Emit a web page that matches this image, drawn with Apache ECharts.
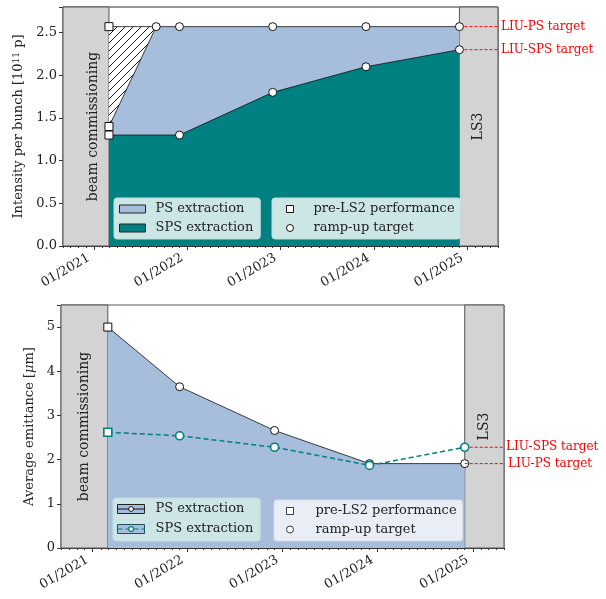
<!DOCTYPE html>
<html><head><meta charset="utf-8">
<script src="https://cdn.jsdelivr.net/npm/echarts@6/dist/echarts.min.js"></script>
<style>
html,body{margin:0;padding:0;background:#fff;}
#topChart{position:absolute;left:0;top:0;width:606px;height:290px;}
#botChart{position:absolute;left:0;top:290px;width:606px;height:309px;}
</style>
</head><body>
<div id="topChart"></div><div id="botChart"></div>
<script>
// ---------- data ----------
const xStart = '2020-09-01';
const xEnd = '2025-05-01';
const commissioningEnd = '2021-02-28';
const ls3Start = '2024-12-01';
const yearTickLabels = ['01/2021', '01/2022', '01/2023', '01/2024', '01/2025'];
const firstTickYear = 2021;

// Intensity per bunch [1e11 p]
const preLS2Date = '2021-02-28';
const psPreLS2Intensity = 1.4;
const psPreLS2Hatch = 2.57;
const spsPreLS2Intensity = 1.3;
const psRampDates = ['2021-09-01', '2021-12-01', '2022-12-01', '2023-12-01', '2024-12-01'];
const psRampIntensity = [2.57, 2.57, 2.57, 2.57, 2.57];
const spsRampDates = ['2021-12-01', '2022-12-01', '2023-12-01', '2024-12-01'];
const spsRampIntensity = [1.3, 1.8, 2.1, 2.3];
const liuPsIntensity = 2.57;
const liuSpsIntensity = 2.3;

// Average emittance [um]
const emitRampDates = ['2021-12-01', '2022-12-01', '2023-12-01', '2024-12-01'];
const psPreLS2Emit = 5.0;
const spsPreLS2Emit = 2.62;
const psRampEmit = [3.65, 2.66, 1.91, 1.91];
const spsRampEmit = [2.54, 2.28, 1.87, 2.28];
const liuPsEmit = 1.91;
const liuSpsEmit = 2.28;

// ---------- style ----------
const FONT = 'DejaVu Serif';
const TXT = '#222';
const FRAME = '#333';
const BLUE = '#a6bddb';
const TEAL = '#008080';
const GRAY = '#d3d3d3';
const RED = '#ff0000';
const DAY = 86400000;

function hatchCanvas() {
  const c = document.createElement('canvas');
  c.width = 8; c.height = 8;
  const g = c.getContext('2d');
  g.fillStyle = '#fff'; g.fillRect(0, 0, 8, 8);
  g.strokeStyle = '#000'; g.lineWidth = 0.9;
  g.beginPath();
  g.moveTo(0, 8); g.lineTo(8, 0);
  g.moveTo(-1, 1); g.lineTo(1, -1);
  g.moveTo(7, 9); g.lineTo(9, 7);
  g.stroke();
  return c;
}

function yearLabel(v) {
  const d = new Date(v);
  if (d.getMonth() !== 0 || d.getDate() !== 1) return '';
  const i = d.getFullYear() - firstTickYear;
  return (i >= 0 && i < yearTickLabels.length) ? yearTickLabels[i] : '';
}

function xAxes() {
  return [
    {
      type: 'time', min: xStart, max: xEnd, position: 'bottom',
      minInterval: 365 * DAY, maxInterval: 366 * DAY, splitNumber: 5,
      axisLine: { lineStyle: { color: FRAME, width: 1 } },
      axisTick: { length: 4, lineStyle: { color: FRAME } },
      splitLine: { show: false },
      axisLabel: { rotate: 30, margin: 8, formatter: yearLabel, fontFamily: FONT, fontSize: 13, color: TXT,
                   padding: [0, 6, 0, 0], showMinLabel: false, showMaxLabel: false, hideOverlap: false }
    },
    {
      type: 'time', min: xStart, max: xEnd, position: 'bottom',
      minInterval: 28 * DAY, maxInterval: 31 * DAY, splitNumber: 56,
      axisLine: { show: false },
      axisTick: { length: 2, lineStyle: { color: FRAME } },
      axisLabel: { show: false },
      splitLine: { show: false }
    }
  ];
}

function shadedAreas(offsetY) {
  return {
    silent: true,
    itemStyle: { color: GRAY, borderColor: '#555', borderWidth: 1 },
    label: { show: true, position: 'inside', rotate: 90, fontFamily: FONT, fontSize: 14, color: TXT },
    data: [
      [{ xAxis: xStart, name: 'beam commissioning', label: { offset: [0, offsetY] } }, { xAxis: commissioningEnd }],
      [{ xAxis: ls3Start, name: 'LS3' }, { xAxis: xEnd }]
    ]
  };
}

// red dashed target line from LS3 start to the right edge, labelled at its end
function targetSeries(label, val, dist) {
  return {
    name: label, type: 'line', xAxisIndex: 0, z: 4, silent: true,
    data: [[ls3Start, val], [xEnd, val]], symbol: 'none',
    lineStyle: { color: RED, type: [3, 2], width: 1 }, itemStyle: { color: RED },
    emphasis: { disabled: true },
    endLabel: { show: true, formatter: label, color: RED, fontFamily: FONT, fontSize: 12, distance: dist }
  };
}

// ---------- top chart ----------
const chartTop = echarts.init(document.getElementById('topChart'), null, { renderer: 'canvas' });
const psIntensityLine = [[preLS2Date, psPreLS2Intensity]].concat(psRampDates.map((d, i) => [d, psRampIntensity[i]]));
const spsIntensityLine = [[preLS2Date, spsPreLS2Intensity]].concat(spsRampDates.map((d, i) => [d, spsRampIntensity[i]]));
const hatchLine = [[preLS2Date, psPreLS2Hatch], [psRampDates[0], psRampIntensity[0]]];
const preLS2Top = [[preLS2Date, psPreLS2Hatch], [preLS2Date, psPreLS2Intensity], [preLS2Date, spsPreLS2Intensity]];
const rampTop = psRampDates.map((d, i) => [d, psRampIntensity[i]]).concat(spsRampDates.map((d, i) => [d, spsRampIntensity[i]]));

const markerLegendData = [
  { name: 'pre-LS2 performance', icon: 'rect', itemStyle: { color: '#fff', borderColor: '#111', borderWidth: 1 } },
  { name: 'ramp-up target', icon: 'circle', itemStyle: { color: '#fff', borderColor: '#111', borderWidth: 1 } }
];

chartTop.setOption({
  animation: false,
  textStyle: { fontFamily: FONT },
  grid: { left: 63, top: 7, width: 435, height: 239, outerBoundsMode: 'none', containLabel: false,
          show: true, borderColor: FRAME, borderWidth: 1, backgroundColor: 'transparent' },
  xAxis: xAxes(),
  yAxis: {
    type: 'value', min: 0, max: 2.8, interval: 0.5,
    name: 'Intensity per bunch [10{sup|11} p]', nameLocation: 'middle', nameGap: 29,
    nameTextStyle: { fontFamily: FONT, fontSize: 13, color: TXT, rich: { sup: { fontFamily: FONT, fontSize: 9, color: TXT, padding: [0, 0, 5, 0] } } },
    axisLine: { show: true, lineStyle: { color: FRAME } },
    axisTick: { show: true, length: 4, lineStyle: { color: FRAME } },
    splitLine: { show: false },
    axisLabel: { fontFamily: FONT, fontSize: 13, color: TXT, margin: 6,
      formatter: v => (Math.abs(v / 0.5 - Math.round(v / 0.5)) < 1e-6 ? v.toFixed(1) : '') }
  },
  legend: [
    {
      left: 114, top: 198, orient: 'vertical', itemWidth: 26, itemHeight: 8, itemGap: 6,
      padding: [4.5, 7, 4.5, 5], backgroundColor: '#cce6e6', borderColor: '#c4dcdc', borderWidth: 1, borderRadius: 3,
      symbolKeepAspect: false, selectedMode: false,
      textStyle: { fontFamily: FONT, fontSize: 13, color: TXT, padding: [0, 0, 0, 5] },
      data: [
        { name: 'PS extraction', icon: 'rect', itemStyle: { color: BLUE, borderColor: '#222', borderWidth: 1 } },
        { name: 'SPS extraction', icon: 'rect', itemStyle: { color: TEAL, borderColor: '#222', borderWidth: 1 } }
      ]
    },
    {
      left: 272, top: 198, orient: 'vertical', itemWidth: 7, itemHeight: 7, itemGap: 6,
      padding: [4.5, 6, 4.5, 14], backgroundColor: '#cce6e6', borderColor: '#c4dcdc', borderWidth: 1, borderRadius: 3,
      selectedMode: false,
      textStyle: { fontFamily: FONT, fontSize: 13, color: TXT, padding: [0, 0, 0, 15] },
      data: markerLegendData
    }
  ],
  series: [
    {
      name: 'hatch', type: 'line', xAxisIndex: 0, z: 1, data: hatchLine, symbol: 'none',
      lineStyle: { color: '#111', width: 0.8 },
      areaStyle: { color: { image: hatchCanvas(), repeat: 'repeat' }, opacity: 1 },
      markArea: shadedAreas(7)
    },
    {
      name: 'PS extraction', type: 'line', xAxisIndex: 0, z: 2, data: psIntensityLine, symbol: 'none',
      lineStyle: { color: '#111', width: 0.8 }, itemStyle: { color: BLUE },
      areaStyle: { color: BLUE, opacity: 1 }
    },
    {
      name: 'SPS extraction', type: 'line', xAxisIndex: 0, z: 3, data: spsIntensityLine, symbol: 'none',
      lineStyle: { color: '#111', width: 0.8 }, itemStyle: { color: TEAL },
      areaStyle: { color: TEAL, opacity: 1 }
    },
    targetSeries('LIU-PS target', liuPsIntensity, 3),
    targetSeries('LIU-SPS target', liuSpsIntensity, 3),
    {
      name: 'pre-LS2 performance', type: 'scatter', xAxisIndex: 0, z: 6, data: preLS2Top,
      symbol: 'rect', symbolSize: 8, itemStyle: { color: '#fff', borderColor: '#111', borderWidth: 1, opacity: 1 }
    },
    {
      name: 'ramp-up target', type: 'scatter', xAxisIndex: 0, z: 6, data: rampTop,
      symbol: 'circle', symbolSize: 8, itemStyle: { color: '#fff', borderColor: '#111', borderWidth: 1, opacity: 1 }
    }
  ]
});

// ---------- bottom chart ----------
const chartBot = echarts.init(document.getElementById('botChart'), null, { renderer: 'canvas' });
const psEmitLine = [{ value: [preLS2Date, psPreLS2Emit], symbol: 'rect', symbolSize: 8 }]
  .concat(emitRampDates.map((d, i) => [d, psRampEmit[i]]));
const spsEmitLine = [{ value: [preLS2Date, spsPreLS2Emit], symbol: 'rect', symbolSize: 8 }]
  .concat(emitRampDates.map((d, i) => [d, spsRampEmit[i]]));

const legendTextBL = { fontFamily: FONT, fontSize: 13, color: TXT, padding: [0, 0, 0, 6] };
chartBot.setOption({
  animation: false,
  textStyle: { fontFamily: FONT },
  grid: { left: 61, top: 15, width: 443, height: 243, outerBoundsMode: 'none', containLabel: false,
          show: true, borderColor: '#555', borderWidth: 1, backgroundColor: 'transparent' },
  xAxis: xAxes(),
  yAxis: {
    type: 'value', min: 0, max: 5.5, interval: 1,
    name: 'Average emittance [{it|μ}m]', nameLocation: 'middle', nameGap: 22,
    nameTextStyle: { fontFamily: FONT, fontSize: 13, color: TXT, rich: { it: { fontFamily: FONT, fontSize: 13, fontStyle: 'italic', color: TXT } } },
    axisLine: { show: true, lineStyle: { color: '#555' } },
    axisTick: { show: true, length: 4, lineStyle: { color: FRAME } },
    splitLine: { show: false },
    axisLabel: { fontFamily: FONT, fontSize: 13, color: TXT, margin: 6,
      formatter: v => (Math.abs(v - Math.round(v)) < 1e-6 ? String(Math.round(v)) : '') }
  },
  legend: [
    {
      left: 113, top: 208, orient: 'vertical', itemWidth: 27, itemHeight: 9, itemGap: 7,
      padding: [4.5, 7, 5.5, 4], backgroundColor: '#cde5e4', borderColor: '#c4dcdc', borderWidth: 1, borderRadius: 3,
      symbolKeepAspect: false, selectedMode: false, z: 10,
      textStyle: legendTextBL,
      data: [
        { name: 'PS extraction', icon: 'rect', itemStyle: { color: BLUE, borderColor: '#222', borderWidth: 1 } },
        { name: 'SPS extraction', icon: 'rect', itemStyle: { color: BLUE, borderColor: '#1d4f5c', borderWidth: 1 } }
      ]
    },
    {
      left: 113, top: 208, orient: 'vertical', itemWidth: 27, itemHeight: 6, itemGap: 7,
      padding: [4.5, 7, 5.5, 4], backgroundColor: 'transparent', selectedMode: false, z: 11,
      textStyle: Object.assign({}, legendTextBL, { color: 'transparent' }),
      data: [
        { name: 'PS extraction', itemStyle: { borderWidth: 1 }, lineStyle: { width: 1 } },
        { name: 'SPS extraction', itemStyle: { borderWidth: 1.2 }, lineStyle: { width: 1.2 } }
      ]
    },
    {
      left: 274, top: 210, orient: 'vertical', itemWidth: 7, itemHeight: 7, itemGap: 5.5,
      padding: [4.5, 6, 5, 12], backgroundColor: '#e9eef6', borderColor: '#d8dde6', borderWidth: 1, borderRadius: 3,
      selectedMode: false, z: 10,
      textStyle: { fontFamily: FONT, fontSize: 13, color: TXT, padding: [0, 0, 0, 17] },
      data: markerLegendData
    }
  ],
  series: [
    {
      name: 'PS extraction', type: 'line', xAxisIndex: 0, z: 2, data: psEmitLine,
      symbol: 'circle', symbolSize: 8, showSymbol: true,
      lineStyle: { color: '#111', width: 0.8 },
      itemStyle: { color: '#fff', borderColor: '#111', borderWidth: 1 },
      areaStyle: { color: BLUE, opacity: 1 },
      markArea: shadedAreas(0)
    },
    targetSeries('LIU-PS target', liuPsEmit, 4),
    targetSeries('LIU-SPS target', liuSpsEmit, 2),
    {
      name: 'SPS extraction', type: 'line', xAxisIndex: 0, z: 5, data: spsEmitLine,
      symbol: 'circle', symbolSize: 8, showSymbol: true,
      lineStyle: { color: TEAL, width: 1.5, type: [5, 3] },
      itemStyle: { color: '#fff', borderColor: TEAL, borderWidth: 1.6 }
    },
    { name: 'pre-LS2 performance', type: 'scatter', data: [], symbol: 'rect' },
    { name: 'ramp-up target', type: 'scatter', data: [], symbol: 'circle' }
  ]
});
</script>
</body></html>
